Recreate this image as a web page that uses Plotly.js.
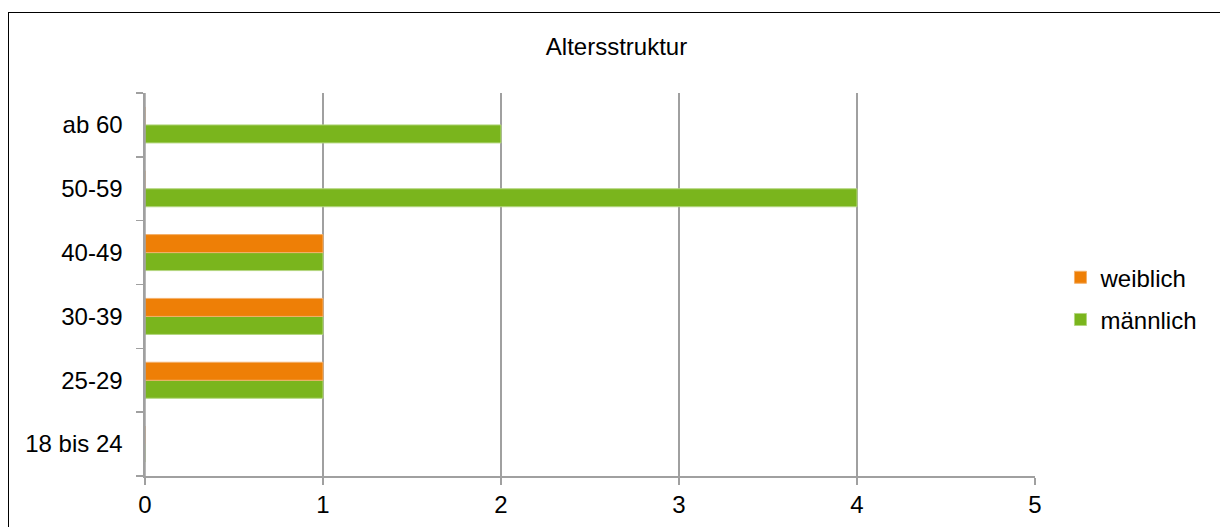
<!DOCTYPE html>
<html>
<head>
<meta charset="utf-8">
<script src="https://cdn.plot.ly/plotly-3.0.1.min.js"></script>
<style>
  html, body { margin: 0; padding: 0; background: #fff; overflow: hidden; }
  #chart { position: absolute; left: 0; top: 0; width: 1220px; height: 527px; }
  #frame { position: absolute; left: 8px; top: 12px; width: 1400px; height: 700px;
           border-left: 1.5px solid #000; border-top: 1.5px solid #000; pointer-events: none; }
</style>
</head>
<body>
<div id="chart"></div>
<div id="frame"></div>
<script>
const categories = ["18 bis 24", "25-29", "30-39", "40-49", "50-59", "ab 60"];
const weiblich = [0, 1, 1, 1, 0, 0];
const maennlich = [0, 1, 1, 1, 4, 2];
const xTicks = [0, 1, 2, 3, 4, 5];

const FONT = "Liberation Sans, Arial, sans-serif";
const FS = 24;

const traces = [
  {
    type: "bar", orientation: "h", name: "männlich",
    y: categories, x: maennlich, legendgroup: "m", legendrank: 2,
    marker: { color: "#7AB51D", line: { color: "#B3D67F", width: 1 } },
    hoverinfo: "x+name"
  },
  {
    type: "bar", orientation: "h", name: "weiblich",
    y: categories, x: weiblich, legendgroup: "w", legendrank: 1,
    marker: { color: "#EE7F06", line: { color: "#F4B06A", width: 1 } },
    hoverinfo: "x+name"
  }
];

const layout = {
  width: 1220, height: 527,
  margin: { l: 145, r: 185, t: 93, b: 51 },
  paper_bgcolor: "#fff", plot_bgcolor: "#fff",
  font: { family: FONT, size: FS, color: "#000" },
  title: { text: "Altersstruktur", x: 616.5 / 1220, xanchor: "center", y: 1 - 47 / 527, yanchor: "middle",
           font: { family: FONT, size: FS, color: "#000" } },
  barmode: "group", bargap: 0.436, bargroupgap: 0,
  xaxis: {
    range: [0, 5], tickvals: xTicks, ticktext: xTicks.map(String),
    showgrid: true, gridcolor: "#A0A0A0", gridwidth: 1.4,
    showline: true, linecolor: "#A0A0A0", linewidth: 1.5,
    ticks: "outside", ticklen: 7, tickcolor: "#A0A0A0", tickwidth: 1.4,
    zeroline: false, fixedrange: true,
    tickfont: { family: FONT, size: FS, color: "#000" }
  },
  yaxis: {
    type: "category", categoryorder: "array", categoryarray: categories,
    tickson: "boundaries", ticks: "outside", ticklen: 7, tickcolor: "#A0A0A0", tickwidth: 1.4,
    showline: true, linecolor: "#A0A0A0", linewidth: 1.6,
    showgrid: false, zeroline: false, fixedrange: true,
    ticklabelstandoff: 16,
    tickfont: { family: FONT, size: FS, color: "#000" }
  },
  shapes: [
    { type: "line", xref: "x", yref: "paper", x0: xTicks[0], x1: xTicks[0], y0: 0, y1: 1,
      line: { color: "#A0A0A0", width: 1.5 }, layer: "above" }
  ],
  showlegend: true,
  legend: {
    traceorder: "grouped", tracegroupgap: 8,
    x: 1.0286, xanchor: "left", y: 0.463, yanchor: "middle",
    bgcolor: "rgba(0,0,0,0)", borderwidth: 0,
    font: { family: FONT, size: FS, color: "#000" }
  }
};

Plotly.newPlot("chart", traces, layout, { displayModeBar: false, staticPlot: true });
</script>
</body>
</html>
